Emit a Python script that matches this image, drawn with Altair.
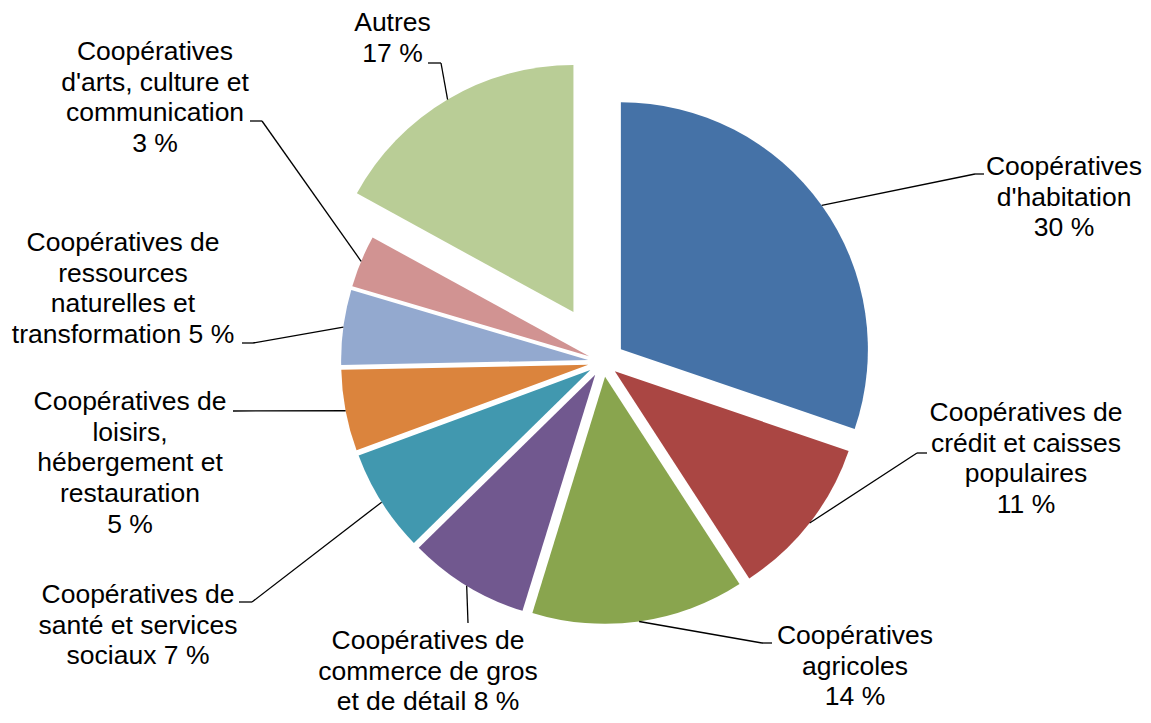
import altair as alt
import pandas as pd

# ---------------- data ----------------
categories = [
    "Coopératives d'habitation",
    "Coopératives de crédit et caisses populaires",
    "Coopératives agricoles",
    "Coopératives de commerce de gros et de détail",
    "Coopératives de santé et services sociaux",
    "Coopératives de loisirs, hébergement et restauration",
    "Coopératives de ressources naturelles et transformation",
    "Coopératives d'arts, culture et communication",
    "Autres",
]
shares = [30.2, 10.6, 13.9, 7.9, 6.7, 5.3, 4.9, 3.4, 17.0]
label_lines = [
    "Coopératives|d'habitation|30 %",
    "Coopératives de|crédit et caisses|populaires|11 %",
    "Coopératives|agricoles|14 %",
    "Coopératives de|commerce de gros|et de détail 8 %",
    "Coopératives de|santé et services|sociaux 7 %",
    "Coopératives de|loisirs,|hébergement et|restauration|5 %",
    "Coopératives de|ressources|naturelles et|transformation 5 %",
    "Coopératives|d'arts, culture et|communication|3 %",
    "Autres|17 %",
]
colors = ["#4572A7", "#AA4643", "#89A54E", "#71588F", "#4198AF",
          "#DB843D", "#93A9CF", "#D19392", "#B9CD96"]

# ---------------- layout (pixels, page coordinates) ----------------
OFFSET = 8
CX, CY, R = 603 - OFFSET, 362 - OFFSET, 247
explode = [22, 15, 15, 15, 15, 15, 15, 15, 58]
# centre x of the label block, centre y of its first line
label_xy = [(1064, 167), (1026, 413), (855, 636), (428, 641), (138, 595),
            (130, 402), (123, 243), (155, 52), (392.5, 23)]
leader_elbow = [(975, 174), (917, 453), (762, 643), (468, 623), (252, 602),
                (233, 411), (253, 343), (262, 121), (441, 63)]
leader_end = [(984, 174), (927, 453), (772, 643), (468, 623), (239, 602),
              (233, 411), (242, 343), (250, 121), (428, 63)]

df = pd.DataFrame({
    "idx": list(range(len(categories))),
    "category": categories,
    "share": shares,
    "label": label_lines,
    "color": colors,
    "explode": explode,
    "lx": [p[0] - OFFSET for p in label_xy],
    "ly": [p[1] - OFFSET for p in label_xy],
    "ex": [p[0] - OFFSET for p in leader_elbow],
    "ey": [p[1] - OFFSET for p in leader_elbow],
    "tx": [p[0] - OFFSET for p in leader_end],
    "ty": [p[1] - OFFSET for p in leader_end],
})

base = (
    alt.Chart(df)
    .transform_window(cum="sum(share)", sort=[alt.SortField("idx")], frame=[None, 0])
    .transform_joinaggregate(total="sum(share)")
    .transform_calculate(
        a0="2*PI*(datum.cum - datum.share)/datum.total",
        a1="2*PI*datum.cum/datum.total",
    )
    .transform_calculate(mid="(datum.a0 + datum.a1)/2")
    .transform_calculate(
        px=f"{CX} + datum.explode*sin(datum.mid)",
        py=f"{CY} - datum.explode*cos(datum.mid)",
    )
    .transform_calculate(
        sx=f"datum.px + {R}*sin(datum.mid)",
        sy=f"datum.py - {R}*cos(datum.mid)",
        lines="split(datum.label, '|')",
    )
)

arcs = base.mark_arc(radius=R, strokeWidth=0).encode(
    x=alt.X("px:Q", scale=None, axis=None),
    y=alt.Y("py:Q", scale=None, axis=None),
    theta=alt.Theta("a0:Q", scale=None, stack=None),
    theta2="a1:Q",
    color=alt.Color("color:N", scale=None),
)

lead1 = base.mark_rule(color="black", strokeWidth=1.3).encode(
    x=alt.X("sx:Q", scale=None, axis=None),
    y=alt.Y("sy:Q", scale=None, axis=None),
    x2="ex:Q",
    y2="ey:Q",
)

lead2 = base.mark_rule(color="black", strokeWidth=1.3).encode(
    x=alt.X("ex:Q", scale=None, axis=None),
    y=alt.Y("ey:Q", scale=None, axis=None),
    x2="tx:Q",
    y2="ty:Q",
)

texts = base.mark_text(
    font="Liberation Sans", fontSize=26.5, lineHeight=30.7,
    align="center", baseline="middle", color="black",
).encode(
    x=alt.X("lx:Q", scale=None, axis=None),
    y=alt.Y("ly:Q", scale=None, axis=None),
    text="lines:N",
)

chart = (
    alt.layer(arcs, lead1, lead2, texts)
    .properties(width=1135, height=707, padding=0, autosize=alt.AutoSizeParams(type="none"))
    .configure_view(stroke=None)
)

chart.save("out.html", embed_options={"renderer": "svg", "actions": False})
